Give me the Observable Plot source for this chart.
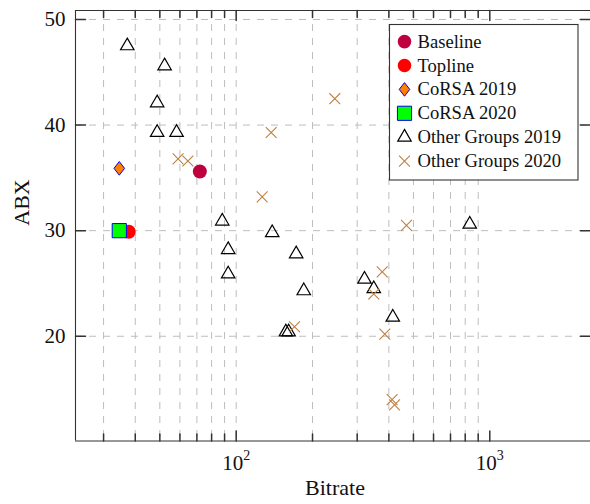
<!DOCTYPE html>
<html><head><meta charset="utf-8">
<script src="https://cdn.jsdelivr.net/npm/d3@7"></script>
<script src="https://cdn.jsdelivr.net/npm/@observablehq/plot@0.6"></script>
<style>body{margin:0;background:#fff} svg{display:block}</style>
</head><body><div id="chart"></div>
<script>
// ---- data (bitrate, ABX) ----
const baseline = [[71.9, 35.6]];
const topline = [[37.7, 29.9]];
const corsa2019 = [[34.6, 35.9]];
const corsa2020 = [[34.6, 30.0]];
const other2019 = [
  [37.2, 47.5], [52.2, 45.6], [48.8, 42.1], [48.8, 39.3], [58.2, 39.3],
  [88.1, 30.9], [93.0, 28.2], [93.0, 25.9], [138.7, 29.8], [172.4, 27.8],
  [184.7, 24.3], [157, 20.4], [161, 20.4], [320.6, 25.4], [348.8, 24.5],
  [414.5, 21.8], [833.7, 30.6]
];
const other2020 = [
  [59.0, 36.8], [64.5, 36.6], [137.4, 39.3], [126.6, 33.2], [244.8, 42.5],
  [169.8, 20.9], [376.5, 26.1], [348.8, 24.0], [385.5, 20.2], [469.3, 30.5],
  [412, 14.0], [421, 13.5]
];
const seriesNames = ["Baseline", "Topline", "CoRSA 2019", "CoRSA 2020", "Other Groups 2019", "Other Groups 2020"];
const yTicks = [20, 30, 40, 50];
const xMajor = [100, 1000];
const xMinor = [30, 40, 50, 60, 70, 80, 90, 200, 300, 400, 500, 600, 700, 800, 900];
const xGrid = [30, 40, 50, 60, 70, 80, 90, 100, 200, 300, 400, 500, 600, 700, 800, 900];
const xDomain = [23.25, 2564];
const yDomain = [10.08, 50.85];
const xLabel = "Bitrate";
const yLabel = "ABX";

// ---- styles ----
const FONT = "Liberation Serif";
const C = {baseline: "#BF0040", topline: "#FF0000", orange: "#FF8000", green: "#00FF00", blue: "#0000FF", brown: "#BF8040", frame: "#333"};
const tickShape = {draw(ctx, l) { ctx.moveTo(0, 0); ctx.lineTo(0, -l); }};
const diamondSym = {draw(ctx, size) {
  const h = Math.sqrt(size / Math.PI), w = 0.78 * h;
  ctx.moveTo(0, -h); ctx.lineTo(w, 0); ctx.lineTo(0, h); ctx.lineTo(-w, 0); ctx.closePath();
}};
const supMap = {"\u00B2": "2", "\u00B3": "3"};
const supChars = {2: "\u00B2", 3: "\u00B3"};
const gridStyle = {stroke: "#bdbdbd", strokeOpacity: 1, strokeWidth: 1, strokeDasharray: "7,7"};

const plot = Plot.plot({
  width: 590, height: 504,
  marginLeft: 75, marginRight: 0, marginTop: 10, marginBottom: 63.5,
  style: {fontFamily: FONT, background: "white", color: "#111", overflow: "hidden"},
  x: {type: "log", domain: xDomain, range: [75, 593], axis: null},
  y: {domain: yDomain, axis: null},
  marks: [
    Plot.gridX(xGrid, gridStyle),
    Plot.gridY(yTicks, gridStyle),
    // frame (left, bottom, top)
    Plot.ruleX([xDomain[0]], {stroke: C.frame, strokeWidth: 1.1}),
    Plot.ruleY(yDomain, {stroke: C.frame, strokeWidth: 1.1}),
    // inward ticks
    Plot.vector(yTicks, {y: d => d, frameAnchor: "left", rotate: 90, length: 10, anchor: "start", shape: tickShape, stroke: C.frame}),
    Plot.vector(yTicks, {y: d => d, frameAnchor: "right", rotate: -90, length: 10, anchor: "start", shape: tickShape, stroke: C.frame}),
    Plot.vector(xMinor, {x: d => d, frameAnchor: "bottom", rotate: 0, length: 7, anchor: "start", shape: tickShape, stroke: C.frame}),
    Plot.vector(xMajor, {x: d => d, frameAnchor: "bottom", rotate: 0, length: 10, anchor: "start", shape: tickShape, stroke: C.frame}),
    Plot.vector(xMinor, {x: d => d, frameAnchor: "top", rotate: 180, length: 7, anchor: "start", shape: tickShape, stroke: C.frame}),
    Plot.vector(xMajor, {x: d => d, frameAnchor: "top", rotate: 180, length: 10, anchor: "start", shape: tickShape, stroke: C.frame}),
    // axes
    Plot.axisY(yTicks, {tickSize: 0, tickPadding: 10, fontSize: 21, label: null}),
    Plot.axisX(xMajor, {tickSize: 0, tickPadding: 14, fontSize: 21, label: null,
      tickFormat: d => "10" + supChars[Math.round(Math.log10(d))]}),
    Plot.text([yLabel], {text: d => d, frameAnchor: "left", dx: -54, rotate: -90, fontSize: 22}),
    Plot.text([xLabel], {text: d => d, frameAnchor: "bottom", dx: 2, dy: 53.5, fontSize: 22}),
    // data
    Plot.dot(baseline, {x: d => d[0], y: d => d[1], r: 7, fill: C.baseline}),
    Plot.dot(topline, {x: d => d[0], y: d => d[1], r: 7, fill: C.topline}),
    Plot.dot(corsa2019, {x: d => d[0], y: d => d[1], r: 6.8, symbol: diamondSym, fill: C.orange, stroke: C.blue, strokeWidth: 1}),
    Plot.dot(corsa2020, {x: d => d[0], y: d => d[1], r: 8, symbol: "square", fill: C.green, stroke: C.blue, strokeWidth: 1}),
    Plot.dot(other2019, {x: d => d[0], y: d => d[1], r: 5, symbol: "triangle", fill: "none", stroke: "#000", strokeWidth: 1.2}),
    Plot.dot(other2020, {x: d => d[0], y: d => d[1], r: 5, symbol: "times", fill: "none", stroke: C.brown, strokeWidth: 1.1})
  ]
});
document.getElementById("chart").appendChild(plot);

const svg = d3.select(plot);
// superscript exponents on x tick labels
svg.selectAll('g[aria-label="x-axis tick label"] text').each(function() {
  const t = d3.select(this);
  const s = t.text();
  const last = s.slice(-1);
  if (supMap[last]) {
    t.text(s.slice(0, -1));
    t.append("tspan").attr("dy", -10).attr("font-size", 14).text(supMap[last]);
  }
});

// legend
const lg = svg.append("g").attr("font-family", FONT).attr("font-size", 18.6).attr("fill", "#111")
  .attr("text-anchor", "start");
lg.append("rect").attr("x", 389.5).attr("y", 24.5).attr("width", 188.5).attr("height", 155.5)
  .attr("fill", "white").attr("stroke", C.frame).attr("stroke-width", 1.1);
const sym = (type, r) => d3.symbol(type, Math.PI * r * r)();
const legendMarks = [
  {d: sym(d3.symbolCircle, 6.8), fill: C.baseline, stroke: "none", sw: 0},
  {d: sym(d3.symbolCircle, 6.8), fill: C.topline, stroke: "none", sw: 0},
  {d: sym(diamondSym, 6.8), fill: C.orange, stroke: C.blue, sw: 1},
  {d: sym(d3.symbolSquare, 8), fill: C.green, stroke: C.blue, sw: 1},
  {d: sym(d3.symbolTriangle, 5), fill: "none", stroke: "#000", sw: 1.2},
  {d: sym(d3.symbolTimes, 5), fill: "none", stroke: C.brown, sw: 1.1}
];
seriesNames.forEach((name, i) => {
  const cy = 41.6 + i * 23.9;
  const m = legendMarks[i];
  lg.append("path").attr("d", m.d).attr("transform", `translate(404.5,${cy})`)
    .attr("fill", m.fill).attr("stroke", m.stroke).attr("stroke-width", m.sw);
  lg.append("text").attr("x", 417.5).attr("y", cy + 6).attr("text-anchor", "start").text(name);
});
</script>
</body></html>
